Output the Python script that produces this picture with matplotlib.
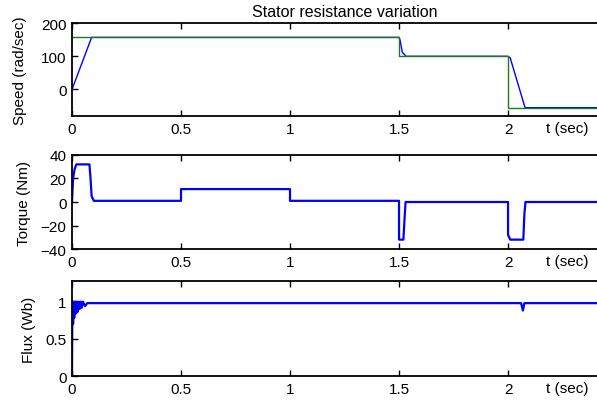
import matplotlib
matplotlib.use("Agg")
import matplotlib.pyplot as plt

plt.rcParams['font.family'] = ['Liberation Sans', 'DejaVu Sans']
plt.rcParams['font.size'] = 11

# speed (rad/sec)
speed_t = [0, 0.09, 1.5, 1.505, 1.515, 1.532, 2.0, 2.01, 2.078, 2.6]
speed = [0, 157, 157, 148, 112, 100, 100, 95, -55, -55]
speed_ref_t = [0, 1.5, 1.5, 2.0, 2.0, 2.6]
speed_ref = [157, 157, 100, 100, -55, -55]

# torque (Nm)
torque_t = [0, 0.005, 0.012, 0.02, 0.08, 0.085, 0.09, 0.1, 0.5, 0.5, 1.0, 1.0,
            1.5, 1.5, 1.52, 1.525, 1.53, 2.0, 2.0, 2.01, 2.07, 2.075, 2.08, 2.6]
torque = [0, 20, 28, 32, 32, 20, 5, 1, 1, 11, 11, 1,
          1, -32, -32, -15, 0, 0, -28, -32, -32, -10, 0, 0]

# flux (Wb)
flux_t = [0, 0.001, 0.003, 0.005, 0.008, 0.01, 0.014, 0.017, 0.021, 0.025, 0.03,
          0.035, 0.04, 0.045, 0.05, 0.06, 0.07, 0.1, 2.06, 2.068, 2.075, 2.6]
flux = [0, 0.6, 1.0, 0.7, 1.0, 0.78, 1.0, 0.84, 1.0, 0.86, 1.0,
        0.9, 1.0, 0.92, 1.0, 0.94, 0.98, 0.98, 0.98, 0.88, 0.98, 0.98]

xticks = [0, 0.5, 1, 1.5, 2]
xtick_labels = ['0', '0.5', '1', '1.5', '2']

fig = plt.figure(figsize=(5.97, 4.02), dpi=100)
left, width = 0.1206, 0.913
ax1 = fig.add_axes([left, 0.709, width, 0.231])
ax2 = fig.add_axes([left, 0.378, width, 0.234])
ax3 = fig.add_axes([left, 0.062, width, 0.237])

ax1.plot(speed_t, speed, color='#0000ff', lw=1)
ax1.plot(speed_ref_t, speed_ref, color='#1f7a1f', lw=1)
ax1.set_ylim(-80, 200)
ax1.set_yticks([0, 100, 200])
ax1.set_ylabel("Speed (rad/sec)", labelpad=10)
ax1.set_title("Stator resistance variation", fontsize=11.5, pad=5)

ax2.plot(torque_t, torque, color='#0000ff', lw=1.6)
ax2.set_ylim(-40, 40)
ax2.set_yticks([-40, -20, 0, 20, 40])
ax2.set_ylabel("Torque (Nm)", labelpad=7)

ax3.plot(flux_t, flux, color='#0000ff', lw=1.6)
ax3.set_ylim(0, 1.28)
ax3.set_yticks([0, 0.5, 1])
ax3.set_yticklabels(['0', '0.5', '1'])
ax3.set_ylabel("Flux (Wb)", labelpad=7)

for ax in [ax1, ax2, ax3]:
    ax.set_xlim(0, 2.5)
    ax.set_xticks(xticks)
    ax.set_xticklabels(xtick_labels)
    ax.tick_params(direction='in', top=True, right=True, length=4, width=1, pad=4)
    for s in ax.spines.values():
        s.set_linewidth(1.3)
    ax.text(0.908, -0.05, "t (sec)", transform=ax.transAxes, ha='center', va='top')

fig.savefig("out.png", dpi=100)
